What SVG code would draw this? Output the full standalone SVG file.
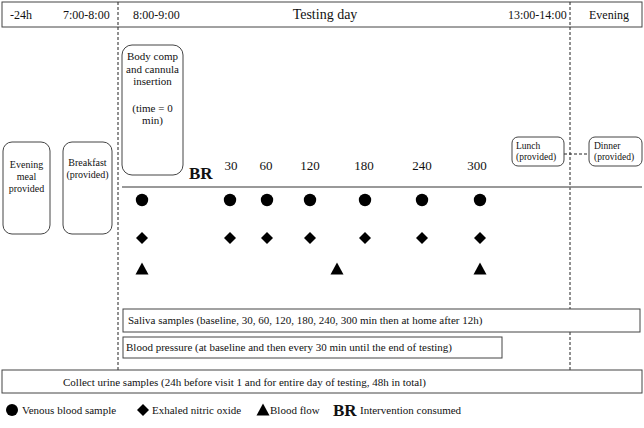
<svg xmlns="http://www.w3.org/2000/svg" width="644" height="428" viewBox="0 0 644 428">
<style>
text{font-family:"Liberation Serif","Times New Roman",serif;fill:#111}
.box{fill:#fff;stroke:#444;stroke-width:1}
.dash{stroke:#222;stroke-width:1;stroke-dasharray:3,2;fill:none}
.t13{font-size:13px}
.t12{font-size:12px}
.t11{font-size:11px}
.t10{font-size:10px}
.c{text-anchor:middle}
.br{font-size:17px;font-weight:bold}
.m{fill:#000}
</style>
<defs>
<circle id="dot" r="6.2" class="m"/>
<path id="dia" d="M0,-6 L6,0 L0,6 L-6,0 Z" class="m"/>
<path id="tri" d="M0,-6.5 L6.5,5.5 L-6.5,5.5 Z" class="m"/>
</defs>
<rect width="644" height="428" fill="#fff"/>
<g id="header">
<rect class="box" x="2" y="2" width="640" height="25"/>
<text class="t12" x="10" y="19">-24h</text>
<text class="t12" x="63" y="19">7:00-8:00</text>
<text class="t12" x="133" y="19">8:00-9:00</text>
<text x="325" y="19" text-anchor="middle" style="font-size:14px">Testing day</text>
<text class="t12" x="508" y="19">13:00-14:00</text>
<text class="t12" x="589" y="19">Evening</text>
</g>
<g id="connectors">
<line class="dash" x1="118" y1="2" x2="118" y2="370"/>
<line class="dash" x1="570" y1="2" x2="570" y2="370"/>
<line class="dash" x1="564" y1="154" x2="589" y2="154"/>
<line x1="122" y1="187" x2="642" y2="187" stroke="#777" stroke-width="1.5"/>
</g>
<g id="evening-meal">
<rect class="box" x="3" y="142" width="47" height="92" rx="9"/>
<text class="t10 c" x="26.5" y="168">Evening</text>
<text class="t10 c" x="26.5" y="180">meal</text>
<text class="t10 c" x="26.5" y="192">provided</text>
</g>
<g id="breakfast">
<rect class="box" x="63" y="142" width="49" height="92" rx="9"/>
<text class="t10 c" x="87.5" y="166">Breakfast</text>
<text class="t10 c" x="87.5" y="178">(provided)</text>
</g>
<g id="body-comp">
<rect class="box" x="122" y="45" width="61" height="130" rx="10"/>
<text class="t11 c" x="152.5" y="60">Body comp</text>
<text class="t11 c" x="152.5" y="73">and cannula</text>
<text class="t11 c" x="152.5" y="85">insertion</text>
<text class="t11 c" x="152.5" y="112">(time = 0</text>
<text class="t11 c" x="152.5" y="124">min)</text>
</g>
<g id="br-marker">
<text class="br" x="189" y="179">BR</text>
</g>
<g id="times">
<text class="t13 c" x="231" y="170">30</text>
<text class="t13 c" x="266" y="170">60</text>
<text class="t13 c" x="310" y="170">120</text>
<text class="t13 c" x="364" y="170">180</text>
<text class="t13 c" x="422" y="170">240</text>
<text class="t13 c" x="477" y="170">300</text>
</g>
<g id="venous">
<use href="#dot" x="142" y="200"/>
<use href="#dot" x="230" y="200"/>
<use href="#dot" x="267" y="200"/>
<use href="#dot" x="310" y="200"/>
<use href="#dot" x="365" y="200"/>
<use href="#dot" x="422" y="200"/>
<use href="#dot" x="480" y="200"/>
</g>
<g id="nitric">
<use href="#dia" x="142" y="238"/>
<use href="#dia" x="230" y="238"/>
<use href="#dia" x="267" y="238"/>
<use href="#dia" x="310" y="238"/>
<use href="#dia" x="365" y="238"/>
<use href="#dia" x="422" y="238"/>
<use href="#dia" x="480" y="238"/>
</g>
<g id="flow">
<use href="#tri" x="142" y="269"/>
<use href="#tri" x="337" y="269"/>
<use href="#tri" x="480" y="269"/>
</g>
<g id="lunch">
<rect class="box" x="512" y="137" width="52" height="29" rx="6"/>
<text x="516" y="149" style="font-size:9.5px">Lunch</text>
<text x="516" y="160" style="font-size:9.5px">(provided)</text>
</g>
<g id="dinner">
<rect class="box" x="589" y="137" width="53" height="29" rx="6"/>
<text x="594" y="149" style="font-size:9.5px">Dinner</text>
<text x="594" y="160" style="font-size:9.5px">(provided)</text>
</g>
<g id="saliva">
<rect class="box" x="123" y="309" width="517" height="23"/>
<text class="t11" x="128" y="324">Saliva samples (baseline, 30, 60, 120, 180, 240, 300 min then at home after 12h)</text>
</g>
<g id="blood-pressure">
<rect class="box" x="123" y="337" width="379" height="21"/>
<text class="t11" x="126" y="351">Blood pressure (at baseline and then every 30 min until the end of testing)</text>
</g>
<g id="urine">
<rect class="box" x="2" y="370" width="640" height="23"/>
<text class="t11" x="63" y="386">Collect urine samples (24h before visit 1 and for entire day of testing, 48h in total)</text>
</g>
<g id="legend">
<circle cx="12" cy="410" r="6" class="m"/>
<text class="t11" x="22" y="414">Venous blood sample</text>
<path d="M143,404 L149,410 L143,416 L137,410 Z" class="m"/>
<text class="t11" x="152" y="414">Exhaled nitric oxide</text>
<path d="M263,403.5 L269.5,415.5 L256.5,415.5 Z" class="m"/>
<text class="t11" x="270" y="414">Blood flow</text>
<text class="br" x="333" y="416">BR</text>
<text class="t11" x="360" y="414">Intervention consumed</text>
</g>
</svg>
